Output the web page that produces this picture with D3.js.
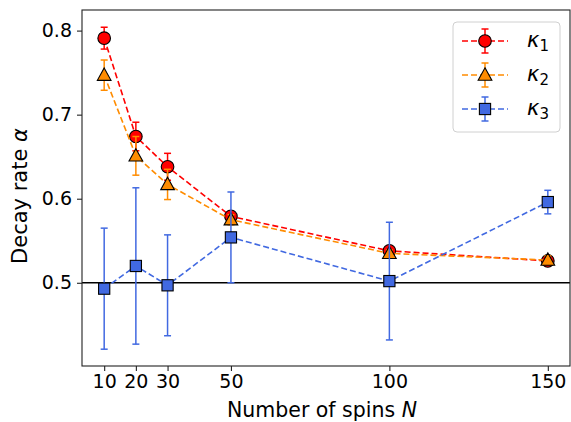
<!DOCTYPE html>
<html><head><meta charset="utf-8">
<script src="https://cdn.jsdelivr.net/npm/d3@7"></script>
<style>body{margin:0;background:#fff}svg{display:block;font-family:"DejaVu Sans",sans-serif}</style>
</head><body><svg id="c" width="571" height="422"></svg>
<script>
const N = [10, 20, 30, 50, 100, 150];
const xTicks = [10, 20, 30, 50, 100, 150];
const yTicks = [0.5, 0.6, 0.7, 0.8];
const k1 = [0.791, 0.674, 0.638, 0.579, 0.538, 0.526];
const k1err = [0.013, 0.017, 0.016, 0.006, 0.004, 0.004];
const k2 = [0.747, 0.651, 0.617, 0.575, 0.535, 0.527];
const k2err = [0.018, 0.023, 0.018, 0.006, 0.004, 0.005];
const k3 = [0.493, 0.520, 0.497, 0.554, 0.502, 0.596];
const k3err = [0.072, 0.093, 0.060, 0.054, 0.070, 0.014];
const seriesNames = ["κ", "κ", "κ"];
const seriesSubs = ["1", "2", "3"];

const svg = d3.select("#c");
const L = 82, T = 10, R = 570, B = 366;
const x = d3.scaleLinear().domain([3, 157]).range([L, R]);
const y = d3.scaleLinear().domain([0.401, 0.8245]).range([B, T]);

const series = [
  {v: k1, e: k1err, color: "#ff0000", shape: "circle"},
  {v: k2, e: k2err, color: "#ff8c00", shape: "triangle"},
  {v: k3, e: k3err, color: "#4169e1", shape: "square"}
];

svg.append("line").attr("x1", L).attr("x2", R).attr("y1", y(0.5)).attr("y2", y(0.5))
  .attr("stroke", "#000").attr("stroke-width", 1.5);

function marker(g, shape, cx, cy, color) {
  if (shape === "circle") {
    g.append("circle").attr("cx", cx).attr("cy", cy).attr("r", 6.3)
      .attr("fill", color).attr("stroke", "#000").attr("stroke-width", 1.1);
  } else if (shape === "triangle") {
    const s = 7.2;
    g.append("path").attr("d", `M${cx},${cy - s}L${cx + s * 0.95},${cy + s * 0.72}L${cx - s * 0.95},${cy + s * 0.72}Z`)
      .attr("fill", color).attr("stroke", "#000").attr("stroke-width", 1.1);
  } else {
    const s = 5.6;
    g.append("rect").attr("x", cx - s).attr("y", cy - s).attr("width", 2 * s).attr("height", 2 * s)
      .attr("fill", color).attr("stroke", "#000").attr("stroke-width", 1.1);
  }
}

const line = d3.line().x((d, i) => x(N[i])).y(d => y(d));
series.forEach(s => {
  const g = svg.append("g");
  g.append("path").attr("d", line(s.v)).attr("fill", "none").attr("stroke", s.color)
    .attr("stroke-width", 1.6).attr("stroke-dasharray", "6,3");
  s.v.forEach((v, i) => {
    const cx = x(N[i]);
    g.append("line").attr("x1", cx).attr("x2", cx).attr("y1", y(v - s.e[i])).attr("y2", y(v + s.e[i]))
      .attr("stroke", s.color).attr("stroke-width", 1.5);
    [v - s.e[i], v + s.e[i]].forEach(w => {
      g.append("line").attr("x1", cx - 3.5).attr("x2", cx + 3.5).attr("y1", y(w)).attr("y2", y(w))
        .attr("stroke", s.color).attr("stroke-width", 1.5);
    });
  });
  s.v.forEach((v, i) => marker(g, s.shape, x(N[i]), y(v), s.color));
});

svg.append("rect").attr("x", L).attr("y", T).attr("width", R - L).attr("height", B - T)
  .attr("fill", "none").attr("stroke", "#222").attr("stroke-width", 1.1);

const xa = svg.append("g").attr("transform", `translate(0,${B})`)
  .call(d3.axisBottom(x).tickValues(xTicks).tickSize(5).tickPadding(4).tickFormat(d3.format("d")));
const ya = svg.append("g").attr("transform", `translate(${L},0)`)
  .call(d3.axisLeft(y).tickValues(yTicks).tickSize(5).tickPadding(5).tickFormat(d3.format(".1f")));
[xa, ya].forEach(a => {
  a.select(".domain").remove();
  a.selectAll("line").attr("stroke", "#222").attr("stroke-width", 1.1);
  a.selectAll("text").attr("font-family", "DejaVu Sans").attr("font-size", 19).attr("fill", "#000");
});

svg.append("text").attr("x", (L + R) / 2 - 4).attr("y", 417).attr("text-anchor", "middle")
  .attr("font-size", 20.5).attr("fill", "#000")
  .html('Number of spins <tspan font-style="italic">N</tspan>');
svg.append("text").attr("transform", `translate(27,${(T + B) / 2 + 8}) rotate(-90)`).attr("text-anchor", "middle")
  .attr("font-size", 21).attr("fill", "#000")
  .html('Decay rate <tspan font-style="italic">α</tspan>');

const lg = svg.append("g");
lg.append("rect").attr("x", 453).attr("y", 22).attr("width", 107).attr("height", 110).attr("rx", 4)
  .attr("fill", "#fff").attr("fill-opacity", 0.8).attr("stroke", "#d0d0d0").attr("stroke-width", 1);
series.forEach((s, i) => {
  const cy = 41 + i * 34;
  lg.append("line").attr("x1", 462).attr("x2", 508).attr("y1", cy).attr("y2", cy)
    .attr("stroke", s.color).attr("stroke-width", 1.6).attr("stroke-dasharray", "6,3");
  lg.append("line").attr("x1", 485).attr("x2", 485).attr("y1", cy - 12).attr("y2", cy + 12)
    .attr("stroke", s.color).attr("stroke-width", 1.5);
  [cy - 12, cy + 12].forEach(w => lg.append("line").attr("x1", 481.5).attr("x2", 488.5).attr("y1", w).attr("y2", w)
    .attr("stroke", s.color).attr("stroke-width", 1.5));
  marker(lg, s.shape, 485, cy, s.color);
  const t = lg.append("text").attr("x", 527).attr("y", cy + 6).attr("font-size", 21).attr("fill", "#000");
  t.append("tspan").attr("font-style", "italic").text(seriesNames[i]);
  t.append("tspan").attr("font-size", 15).attr("dy", 4).text(seriesSubs[i]);
});
</script></body></html>
